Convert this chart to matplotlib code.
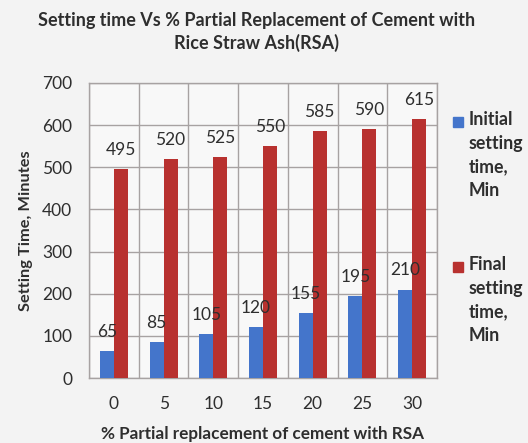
import matplotlib.pyplot as plt
from matplotlib.patches import Rectangle
import numpy as np

plt.rcParams['font.family'] = ['Lato', 'DejaVu Sans']

# Data
replacement = ['0', '5', '10', '15', '20', '25', '30']
initial_time = [65, 85, 105, 120, 155, 195, 210]
final_time = [495, 520, 525, 550, 585, 590, 615]

blue = '#4475cb'
red = '#b8312f'
grid_col = '#a7a2a2'
text_col = '#2e2e2e'

fig = plt.figure(figsize=(5.28, 4.43), dpi=100, facecolor='#f3f3f3')
ax = fig.add_axes([0.1686, 0.1467, 0.659, 0.666], facecolor='#f8f8f8')

x = np.arange(len(replacement))
w = 0.28
ax.bar(x - w / 2, initial_time, w, color=blue, zorder=3)
ax.bar(x + w / 2, final_time, w, color=red, zorder=3)

# Data labels above each bar
for i in range(len(x)):
    ax.annotate(str(initial_time[i]), (x[i] - w / 2, initial_time[i]),
                xytext=(0, 8), textcoords='offset points', ha='center',
                va='bottom', fontsize=12.5, color=text_col)
    ax.annotate(str(final_time[i]), (x[i] + w / 2, final_time[i]),
                xytext=(0, 8), textcoords='offset points', ha='center',
                va='bottom', fontsize=12.5, color=text_col)

ax.set_xlim(-0.5, len(x) - 0.5)
ax.set_ylim(0, 700)
ax.set_yticks(range(0, 701, 100))
ax.set_xticks(x)
ax.set_xticklabels(replacement)
ax.set_xticks(np.arange(-0.5, len(x), 1), minor=True)
ax.tick_params(axis='both', which='both', length=0, labelsize=12.5,
               labelcolor=text_col)
ax.tick_params(axis='x', pad=13)
ax.tick_params(axis='y', pad=12)
ax.grid(True, axis='y', color=grid_col, linewidth=1, zorder=0)
ax.grid(True, axis='x', which='minor', color=grid_col, linewidth=1, zorder=0)
for s in ax.spines.values():
    s.set_color(grid_col)
    s.set_linewidth(1)

ax.set_xlabel('% Partial replacement of cement with RSA', fontsize=12.3,
              fontweight='bold', color=text_col, labelpad=10)
ax.set_ylabel('Setting Time, Minutes', fontsize=11.8, fontweight='bold',
              color=text_col, labelpad=7)

fig.text(0.485, 1 - 32 / 443, 'Setting time Vs % Partial Replacement of Cement with\nRice Straw Ash(RSA)',
         ha='center', va='center', fontsize=13, fontweight='bold',
         color=text_col, linespacing=1.3)

# Legend drawn by hand to match the stacked multi-line labels
legend_items = [('Initial\nsetting\ntime,\nMin', blue, 122),
                ('Final\nsetting\ntime,\nMin', red, 267)]
for label, col, ypix in legend_items:
    yf = 1 - ypix / 443
    fig.add_artist(Rectangle((453 / 528, yf - 5 / 443), 10 / 528, 10 / 443,
                             transform=fig.transFigure, color=col))
    fig.text(469 / 528, yf + 11 / 443, label, ha='left', va='top',
             fontsize=12.8, fontweight='bold', color=text_col, linespacing=1.47)

fig.savefig('out.png', dpi=100, facecolor=fig.get_facecolor())
